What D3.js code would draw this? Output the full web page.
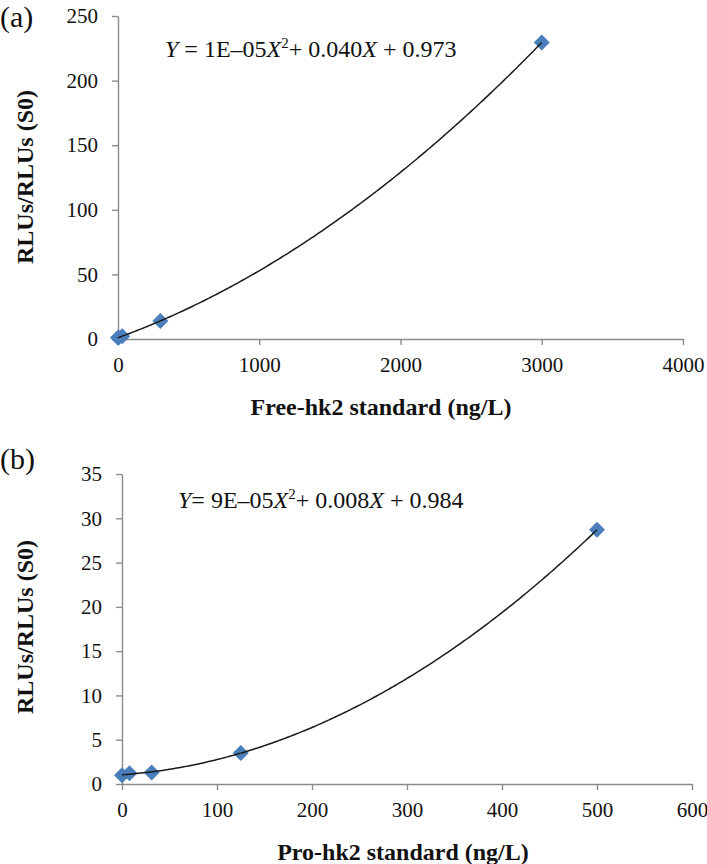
<!DOCTYPE html>
<html><head><meta charset="utf-8">
<script src="https://cdn.jsdelivr.net/npm/d3@7"></script>
<style>body{margin:0;background:#fff}svg{display:block}svg text{font-family:'Liberation Serif','Times New Roman',Tinos,Times,serif !important;fill:#111}</style>
</head><body><svg id="c" width="707" height="864"></svg>
<script>
// ---- data ----
const freeX = [0, 3, 30, 300, 3000];
const freeY = [1.0, 1.1, 2.2, 14.0, 229.5];
const proX = [0, 7.8, 31.25, 125, 500];
const proY = [1.0, 1.2, 1.3, 3.5, 28.7];
const freeXTicks = [0, 1000, 2000, 3000, 4000];
const freeYTicks = [0, 50, 100, 150, 200, 250];
const proXTicks = [0, 100, 200, 300, 400, 500, 600];
const proYTicks = [0, 5, 10, 15, 20, 25, 30, 35];
const panelLabels = ["(a)", "(b)"];
const xTitles = ["Free-hk2 standard (ng/L)", "Pro-hk2 standard (ng/L)"];
const yTitle = "RLUs/RLUs (S0)";
const eqA = ["1E–05", "+ 0.040", "+ 0.973"];
const eqB = ["9E–05", "+ 0.008", "+ 0.984"];

const svg = d3.select("#c");
const FONT = "'Liberation Serif','Times New Roman',Tinos,Times,serif";

function quadFit(xs, ys){
  // least squares y = a x^2 + b x + c
  let n=xs.length,S=[0,0,0,0,0],T=[0,0,0];
  for(let i=0;i<n;i++){const x=xs[i],y=ys[i];
    for(let k=0;k<5;k++)S[k]+=Math.pow(x,k);
    for(let k=0;k<3;k++)T[k]+=y*Math.pow(x,k);}
  const M=[[S[4],S[3],S[2],T[2]],[S[3],S[2],S[1],T[1]],[S[2],S[1],S[0],T[0]]];
  for(let i=0;i<3;i++){let p=M[i][i];for(let j=i;j<4;j++)M[i][j]/=p;
    for(let r=0;r<3;r++)if(r!==i){const f=M[r][i];for(let j=i;j<4;j++)M[r][j]-=f*M[i][j];}}
  return [M[0][3],M[1][3],M[2][3]];
}

function panel(o){
  const g = svg.append("g").attr("font-family",FONT);
  const x = d3.scaleLinear().domain(o.xd).range(o.xr);
  const y = d3.scaleLinear().domain(o.yd).range(o.yr);
  const axisCol = "#8c8c8c";
  const xa = g.append("g").attr("transform",`translate(0,${o.yr[0]})`)
    .call(d3.axisBottom(x).tickValues(o.xt).tickSize(6).tickSizeOuter(0).tickPadding(12).tickFormat(d3.format("d")));
  const ya = g.append("g").attr("transform",`translate(${o.xr[0]},0)`)
    .call(d3.axisLeft(y).tickValues(o.yt).tickSize(6).tickSizeOuter(0).tickPadding(14).tickFormat(d3.format("d")));
  [xa,ya].forEach(a=>{
    a.attr("font-family",FONT).attr("font-size",21);
    a.select(".domain").attr("stroke",axisCol).attr("stroke-width",1.4);
    a.selectAll(".tick line").attr("stroke",axisCol).attr("stroke-width",1.4);
    a.selectAll(".tick text").attr("fill","#111");
  });
  // trendline
  const [a,b,c] = quadFit(o.xs,o.ys);
  const xmin=d3.min(o.xs), xmax=d3.max(o.xs);
  const pts = d3.range(0,201).map(i=>{const xv=xmin+(xmax-xmin)*i/200;return [xv,a*xv*xv+b*xv+c];});
  // markers
  const pos = o.xs.map((v,i)=>[x(v),y(o.ys[i])]);
  g.selectAll("path.m").data(pos).join("path").attr("class","m")
    .attr("d",d=>`M${d[0]},${d[1]-8}L${d[0]+8},${d[1]}L${d[0]},${d[1]+8}L${d[0]-8},${d[1]}Z`)
    .attr("fill","#4a7ebb");
  g.append("path").attr("d",d3.line().x(d=>x(d[0])).y(d=>y(d[1]))(pts))
    .attr("fill","none").attr("stroke","#1a1a1a").attr("stroke-width",1.5);
  // titles
  g.append("text").attr("x",o.xtX).attr("y",o.xtY).attr("text-anchor","middle")
    .attr("font-size",24).attr("font-weight","bold").text(o.xTitle);
  g.append("text").attr("transform",`translate(33,${o.ytY}) rotate(-90)`).attr("text-anchor","middle")
    .attr("font-size",24).attr("font-weight","bold").text(yTitle);
  g.append("text").attr("x",0).attr("y",o.labY).attr("font-size",30).text(o.label);
  // equation
  const t = g.append("text").attr("x",o.eqX).attr("y",o.eqY).attr("font-size",24);
  t.append("tspan").attr("font-style","italic").text("Y");
  t.append("tspan").text(o.eqSp+"= "+o.eq[0]);
  t.append("tspan").attr("font-style","italic").text("X");
  t.append("tspan").attr("dy",-9).attr("font-size",15).text("2");
  t.append("tspan").attr("dy",9).text(o.eq[1]);
  t.append("tspan").attr("font-style","italic").text("X");
  t.append("tspan").text(" "+o.eq[2]);
}

panel({xs:freeX,ys:freeY,xd:[0,4000],xr:[118,683],yd:[0,250],yr:[339,16],xt:freeXTicks,yt:freeYTicks,
  xTitle:xTitles[0],xtX:381,xtY:415,ytY:177,label:panelLabels[0],labY:27,eq:eqA,eqSp:" ",eqX:165,eqY:57});
panel({xs:proX,ys:proY,xd:[0,600],xr:[122,692],yd:[0,35],yr:[784,474],xt:proXTicks,yt:proYTicks,
  xTitle:xTitles[1],xtX:403,xtY:860,ytY:627,label:panelLabels[1],labY:469,eq:eqB,eqSp:"",eqX:178,eqY:508});
</script></body></html>
